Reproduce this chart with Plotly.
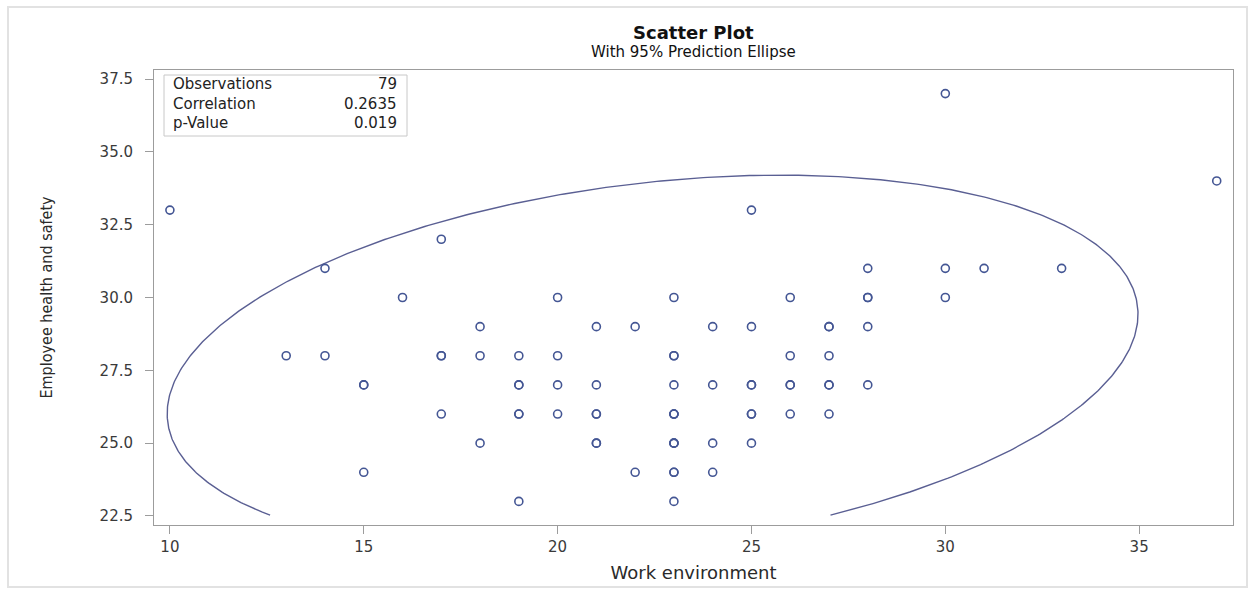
import numpy as np
import plotly.graph_objects as go

work_environment = [
    10,
    13,
    14, 14,
    15, 15, 15,
    16,
    17, 17, 17, 17,
    18, 18, 18,
    19, 19, 19, 19, 19, 19,
    20, 20, 20, 20,
    21, 21, 21, 21, 21, 21,
    22, 22,
    23, 23, 23, 23, 23, 23, 23, 23, 23, 23, 23, 23, 23,
    24, 24, 24, 24,
    25, 25, 25, 25, 25, 25, 25,
    26, 26, 26, 26, 26,
    27, 27, 27, 27, 27, 27,
    28, 28, 28, 28, 28,
    30, 30, 30,
    31,
    33,
    37,
]
employee_health_safety = [
    33,
    28,
    31, 28,
    27, 27, 24,
    30,
    32, 28, 28, 26,
    29, 28, 25,
    28, 27, 27, 26, 26, 23,
    30, 28, 27, 26,
    29, 27, 26, 26, 25, 25,
    29, 24,
    30, 28, 28, 27, 26, 26, 26, 25, 25, 25, 24, 24, 23,
    29, 27, 25, 24,
    33, 29, 27, 27, 26, 26, 25,
    30, 28, 27, 27, 26,
    29, 29, 28, 27, 27, 26,
    31, 30, 30, 29, 27,
    37, 31, 30,
    31,
    31,
    34,
]

stat_labels = ["Observations", "Correlation", "p-Value"]
stat_values = ["79", "0.2635", "0.019"]

# 95% prediction ellipse parameters
ellipse_center = (22.45, 27.72)
ellipse_half_axes = (12.52, 6.48)
ellipse_corr = 0.2635
ellipse_clip_y = 22.5

x_ticks = [10, 15, 20, 25, 30, 35]
y_ticks = [22.5, 25.0, 27.5, 30.0, 32.5, 35.0, 37.5]

# ---------------- ellipse path ----------------
t = np.linspace(0, 2 * np.pi, 721)
U = np.cos(t)
V = ellipse_corr * np.cos(t) + np.sqrt(1 - ellipse_corr ** 2) * np.sin(t)
ex = ellipse_center[0] + ellipse_half_axes[0] * U
ey = ellipse_center[1] + ellipse_half_axes[1] * V
i0 = int(np.argmin(ey))
ex = np.roll(ex, -i0)
ey = np.roll(ey, -i0)
mask = ey >= ellipse_clip_y
ex_list = [float(a) if m else None for a, m in zip(ex, mask)]
ey_list = [float(b) if m else None for b, m in zip(ey, mask)]

BLUE = "#445694"
GRAY = "#9c9c9c"
FONT = "DejaVu Sans, Liberation Sans, Arial, sans-serif"

fig = go.Figure()
fig.add_trace(go.Scatter(
    x=ex_list, y=ey_list, mode="lines",
    line=dict(color="#5a5f93", width=1.4),
    hoverinfo="skip", showlegend=False, connectgaps=False,
))
fig.add_trace(go.Scatter(
    x=work_environment, y=employee_health_safety, mode="markers",
    marker=dict(symbol="circle-open", size=8, color=BLUE, line=dict(width=1.6, color=BLUE)),
    showlegend=False,
))

L, R, T, B = 154, 20, 70, 70
W, H = 1253, 595
pw, ph = W - L - R, H - T - B


def px_x(p):
    return (p - L) / pw


def px_y(p):
    return (H - B - p) / ph


annotations = [
    dict(text="<b>Scatter Plot</b>", x=0.5, y=px_y(32), xref="paper", yref="paper",
         xanchor="center", yanchor="middle", showarrow=False,
         font=dict(family=FONT, size=18, color="#111111")),
    dict(text="With 95% Prediction Ellipse", x=0.5, y=px_y(52), xref="paper", yref="paper",
         xanchor="center", yanchor="middle", showarrow=False,
         font=dict(family=FONT, size=15, color="#111111")),
]
row_y = [84, 104, 123]
for lab, val, ry in zip(stat_labels, stat_values, row_y):
    annotations.append(dict(text=lab, x=px_x(171), y=px_y(ry), xref="paper", yref="paper",
                            xanchor="left", yanchor="middle", showarrow=False,
                            font=dict(family=FONT, size=15, color="#222222")))
    annotations.append(dict(text=val, x=px_x(399), y=px_y(ry), xref="paper", yref="paper",
                            xanchor="right", yanchor="middle", showarrow=False,
                            font=dict(family=FONT, size=15, color="#222222")))

shapes = [
    dict(type="rect", xref="paper", yref="paper",
         x0=px_x(164), x1=px_x(407), y0=px_y(136), y1=px_y(75),
         line=dict(color="#c8c8c8", width=1), fillcolor="rgba(0,0,0,0)", layer="above"),
    dict(type="rect", xref="paper", yref="paper",
         x0=px_x(8), x1=px_x(1247), y0=px_y(587), y1=px_y(7),
         line=dict(color="#e2e2e2", width=2), fillcolor="rgba(0,0,0,0)", layer="below"),
]

fig.update_layout(
    width=W, height=H,
    margin=dict(l=L, r=R, t=T, b=B, pad=0),
    paper_bgcolor="white", plot_bgcolor="white",
    annotations=annotations, shapes=shapes,
    xaxis=dict(
        range=[9.59, 37.42], tickvals=x_ticks, ticktext=[str(v) for v in x_ticks],
        showgrid=False, zeroline=False, showline=True, mirror=True,
        linecolor=GRAY, linewidth=1, ticks="outside", ticklen=8, tickcolor=GRAY,
        tickfont=dict(family=FONT, size=15, color="#3a3a3a"),
        title=dict(text="Work environment", standoff=11,
                   font=dict(family=FONT, size=18, color="#2a2a2a")),
    ),
    yaxis=dict(
        range=[22.19, 37.81], tickvals=y_ticks, ticktext=[f"{v:.1f}" for v in y_ticks],
        showgrid=False, zeroline=False, showline=True, mirror=True,
        linecolor=GRAY, linewidth=1, ticks="outside", ticklen=8, tickcolor=GRAY,
        tickfont=dict(family=FONT, size=15, color="#3a3a3a"),
        ticklabelstandoff=9,
        title=dict(text="Employee health and safety", standoff=42,
                   font=dict(family="Liberation Sans Narrow, DejaVu Sans Condensed, Arial Narrow, sans-serif",
                             size=16, color="#2a2a2a")),
    ),
)

fig.write_html("out.html")
